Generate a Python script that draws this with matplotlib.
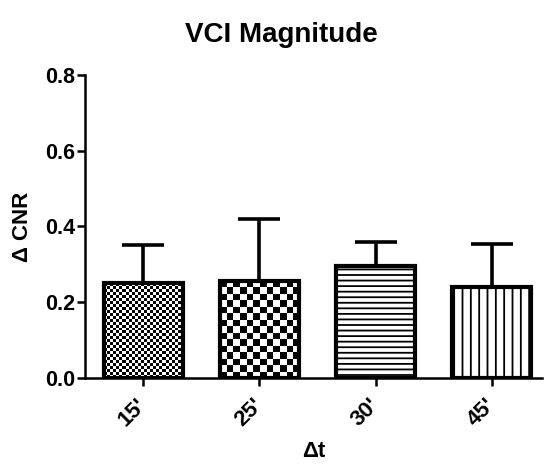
import numpy as np
import matplotlib
matplotlib.use('Agg')
import matplotlib.pyplot as plt

plt.rcParams['font.family'] = ['Liberation Sans', 'DejaVu Sans']
plt.rcParams['font.weight'] = 'bold'
plt.rcParams['hatch.linewidth'] = 1.3

# data
labels = ["15'", "25'", "30'", "45'"]
means = [0.250, 0.255, 0.295, 0.240]
errs = [0.100, 0.165, 0.065, 0.115]
# fill style of each bar: fine checker, coarse checker, horizontal, vertical
fills = ['checker_fine', 'checker', '---', '||']

fig = plt.figure(figsize=(5.49, 4.67), dpi=100)
ax = fig.add_axes([0.155, 0.191, 0.832, 0.648])

x = np.arange(len(labels))
width = 0.68

# error bars (upper only)
ax.errorbar(x, means, yerr=[np.zeros(len(errs)), errs], fmt='none',
            ecolor='black', elinewidth=2.6, capsize=15, capthick=2.6, zorder=1)

bars = ax.bar(x, means, width=width, facecolor='white', edgecolor='black',
              linewidth=3, zorder=2)

for b, f in zip(bars, fills):
    if f.startswith('checker'):
        cell = 3.0 if f == 'checker_fine' else 6.5   # cell size in pixels
        px_w = b.get_width() * 116
        px_h = b.get_height() * 378.75
        nx = int(round(px_w / cell))
        ny = int(round(px_h / cell))
        board = (np.add.outer(np.arange(ny), np.arange(nx)) % 2).astype(float)
        im = ax.imshow(board, cmap='gray', interpolation='nearest', aspect='auto',
                       extent=(b.get_x(), b.get_x() + b.get_width(), 0, b.get_height()),
                       zorder=1.5)
        im.set_clip_path(b)
        b.set_facecolor('none')
        b.set_zorder(3)
    else:
        b.set_hatch(f)

ax.set_xlim(-0.5, 3.43)
ax.set_ylim(0, 0.8)
ax.set_yticks([0.0, 0.2, 0.4, 0.6, 0.8])
ax.set_yticklabels(['0.0', '0.2', '0.4', '0.6', '0.8'])
ax.set_xticks(x)
ax.set_xticklabels(labels, rotation=45, ha='right', va='center',
                   rotation_mode='anchor')

for s in ['top', 'right']:
    ax.spines[s].set_visible(False)
for s in ['left', 'bottom']:
    ax.spines[s].set_linewidth(1.8)
ax.tick_params(axis='both', width=1.8, length=6)
ax.tick_params(axis='x', pad=11, labelsize=16)
ax.tick_params(axis='y', pad=1, labelsize=15.5)
for t in ax.get_xticklabels() + ax.get_yticklabels():
    t.set_fontweight('bold')

fig.text(0.512, 0.925, 'VCI Magnitude', ha='center', va='center',
         fontsize=20, fontweight='bold')
ax.set_ylabel('Δ CNR', fontsize=16, fontweight='bold', labelpad=9)
ax.set_xlabel('Δt', fontsize=16, fontweight='bold', labelpad=8)

fig.savefig('out.png', dpi=100)
